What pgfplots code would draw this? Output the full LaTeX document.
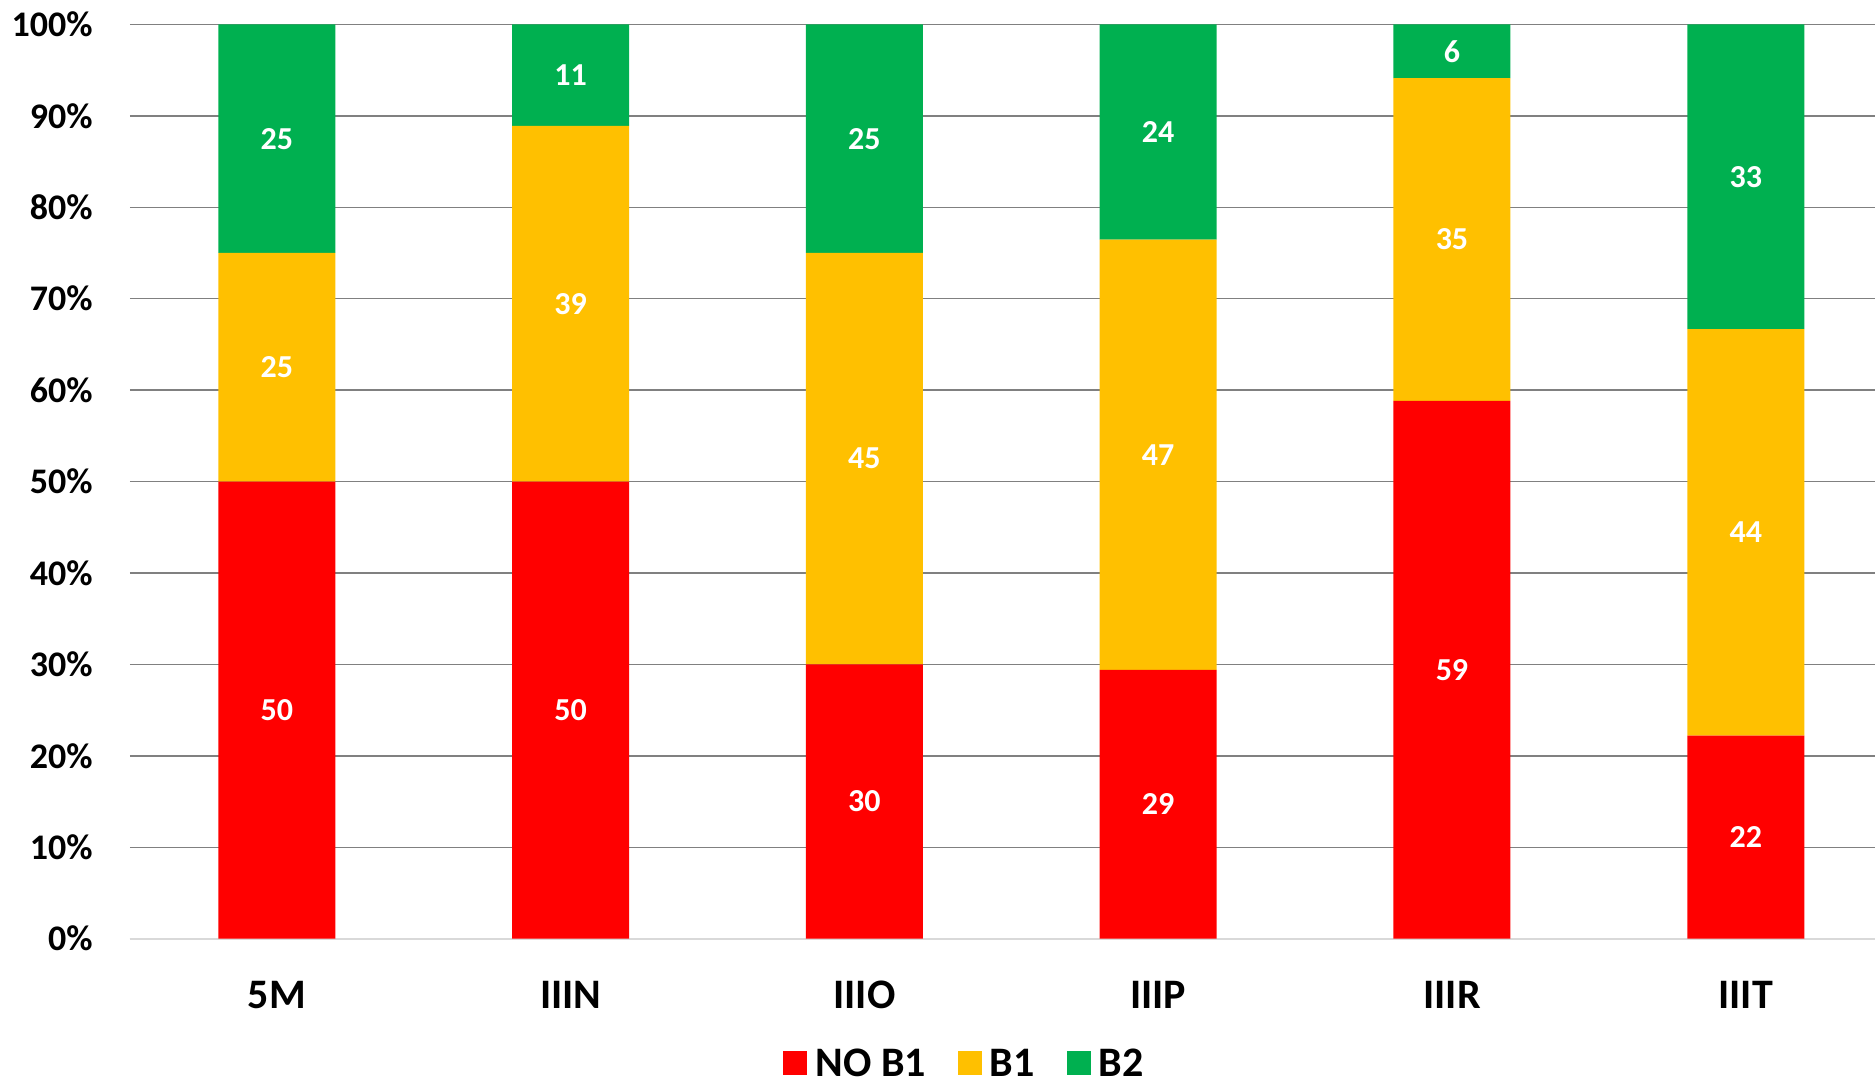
\documentclass[border=0pt]{standalone}
\usepackage{pgfplots}
\pgfplotsset{compat=1.18}
\usepackage{fontspec}
\setmainfont{Carlito}
\definecolor{nob}{HTML}{FF0000}
\definecolor{bone}{HTML}{FFC000}
\definecolor{btwo}{HTML}{00B050}
\pgfplotsset{sq legend/.style={legend image code/.code={\fill[##1] (0pt,-6pt) rectangle (12pt,6pt);}}}
\begin{document}
\begin{tikzpicture}
\useasboundingbox (0,0) rectangle (937.5pt,543pt);
\begin{axis}[
  at={(65pt,73.65pt)}, anchor=south west,
  scale only axis, width=872.5pt, height=457.15pt,
  ybar stacked, bar width=58.5pt,
  xmin=-0.5, xmax=5.44, ymin=0, ymax=100,
  xtick={0,...,5}, xticklabels={5M,IIIN,IIIO,IIIP,IIIR,IIIT},
  ytick={0,10,...,100},
  yticklabel={\pgfmathprintnumber{\tick}\%},
  /pgf/number format/assume math mode=true,
  major tick length=0pt,
  axis x line*=bottom, axis y line*=left,
  y axis line style={draw=none},
  x axis line style={draw={rgb,255:red,217;green,217;blue,217}, line width=1pt, -},
  ymajorgrids, major grid style={draw={rgb,255:red,128;green,128;blue,128}, line width=0.7pt},
  yticklabel style={font=\fontsize{18}{20}\selectfont\bfseries, anchor=east, inner sep=0pt, xshift=-18.5pt},
  xticklabel style={font=\fontsize{21}{24}\selectfont\bfseries, anchor=base, inner sep=0pt, yshift=-34.8pt},
  % labels of stacked bars sit in the middle of each segment
  nodes near coords={\pgfmathprintnumber[fixed,precision=0]{\pgfplotspointmeta}},
  every node near coord/.style={font=\fontsize{16}{18}\selectfont\bfseries, text=white, anchor=center},
  legend style={at={(0.4788,-0.136)}, anchor=center, draw=none, legend columns=-1,
    font=\fontsize{21}{23}\selectfont\bfseries,
    nodes={inner ysep=0pt, text depth=0pt},
    /tikz/every odd column/.append style={column sep=2pt},
    /tikz/every even column/.append style={column sep=14pt}},
]
\addplot[fill=nob, draw=none, sq legend] coordinates {(0,50) (1,50) (2,30) (3,29.41) (4,58.82) (5,22.22)};
\addplot[fill=bone, draw=none, sq legend] coordinates {(0,25) (1,38.89) (2,45) (3,47.06) (4,35.29) (5,44.44)};
\addplot[fill=btwo, draw=none, sq legend] coordinates {(0,25) (1,11.11) (2,25) (3,23.53) (4,5.89) (5,33.34)};
\legend{NO B1,B1,B2}
\end{axis}
\end{tikzpicture}
\end{document}
